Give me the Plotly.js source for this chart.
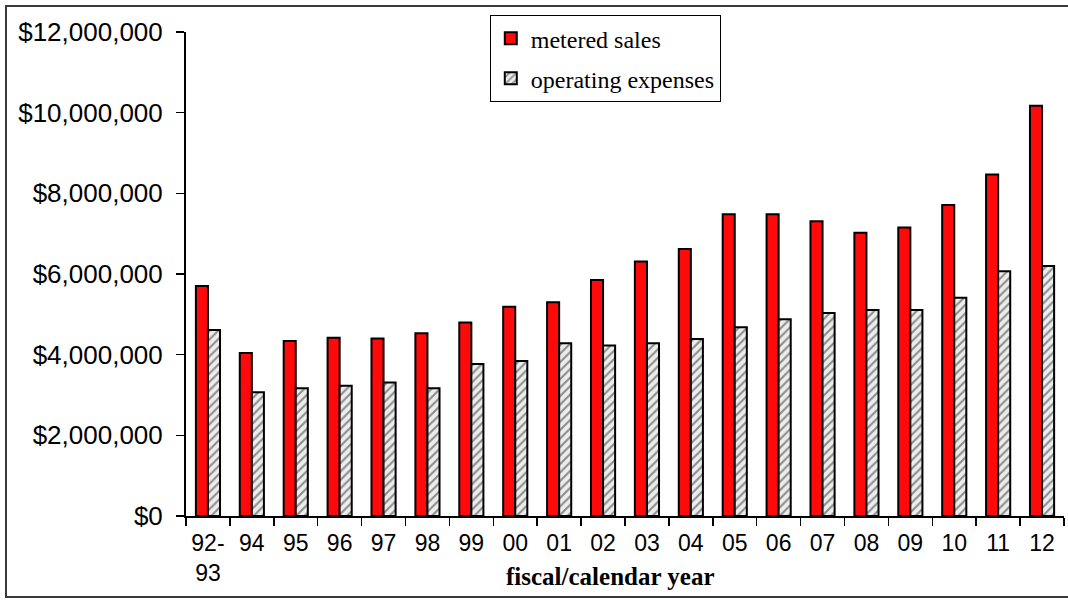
<!DOCTYPE html>
<html>
<head>
<meta charset="utf-8">
<script src="https://cdn.plot.ly/plotly-3.0.1.min.js"></script>
<style>
  html, body { margin: 0; padding: 0; background: #ffffff; }
  #frame { position: absolute; left: 5px; top: 5px; width: 1080px; height: 593px;
           border: 2px solid #3a3a3a; box-sizing: border-box; }
  #chart { position: absolute; left: 0; top: 0; width: 1068px; height: 601px; }
</style>
</head>
<body>
<div id="frame"></div>
<div id="chart"></div>
<script>
const categories = ["92-<br>93", "94", "95", "96", "97", "98", "99", "00", "01", "02",
                    "03", "04", "05", "06", "07", "08", "09", "10", "11", "12"];
const meteredSales = [5700000, 4040000, 4340000, 4420000, 4400000, 4530000, 4800000, 5190000, 5300000, 5850000,
                      6310000, 6620000, 7480000, 7480000, 7310000, 7020000, 7150000, 7710000, 8470000, 10170000];
const operatingExpenses = [4610000, 3070000, 3170000, 3230000, 3310000, 3170000, 3770000, 3840000, 4280000, 4230000,
                           4280000, 4390000, 4680000, 4880000, 5030000, 5110000, 5110000, 5410000, 6070000, 6200000];
const yTickValues = [0, 2000000, 4000000, 6000000, 8000000, 10000000, 12000000];
const yTickLabels = ["$0", "$2,000,000", "$4,000,000", "$6,000,000", "$8,000,000", "$10,000,000", "$12,000,000"];
const xTitle = "fiscal/calendar year";

const traces = [
  {
    type: "bar", name: "metered sales", x: categories, y: meteredSales,
    legendgroup: "a",
    marker: { color: "#ff0a0a", line: { color: "#000000", width: 2 } }
  },
  {
    type: "bar", name: "operating expenses", x: categories, y: operatingExpenses,
    legendgroup: "b",
    marker: {
      color: "#ffffff",
      line: { color: "#000000", width: 2 },
      pattern: { shape: "/", fgcolor: "#8c8c8c", bgcolor: "#ededed", size: 6, solidity: 0.35 }
    }
  }
];

const layout = {
  width: 1068, height: 601,
  margin: { l: 186, r: 4, t: 32, b: 85 },
  paper_bgcolor: "rgba(0,0,0,0)",
  plot_bgcolor: "rgba(0,0,0,0)",
  barmode: "group",
  bargap: 0.45,
  bargroupgap: 0,
  showlegend: true,
  font: { family: "Liberation Sans, Arial, sans-serif", size: 20, color: "#000000" },
  xaxis: {
    type: "category",
    showline: true, linecolor: "#000000", linewidth: 2,
    ticks: "outside", tickson: "boundaries", ticklen: 8, tickwidth: 1.5, tickcolor: "#000000",
    tickangle: 0,
    ticklabelstandoff: 5,
    showgrid: false, zeroline: false,
    tickfont: { family: "Liberation Sans, Arial, sans-serif", size: 23, color: "#000000" }
  },
  yaxis: {
    range: [0, 12000000],
    tickmode: "array",
    tickvals: yTickValues,
    ticktext: yTickLabels,
    showline: true, linecolor: "#000000", linewidth: 2,
    ticks: "outside", ticklen: 8, tickwidth: 1.5, tickcolor: "#000000",
    ticklabelstandoff: 8,
    showgrid: false, zeroline: false,
    tickfont: { family: "Liberation Sans, Arial, sans-serif", size: 26, color: "#000000" }
  },
  annotations: [{
    text: "<b>" + xTitle + "</b>",
    xref: "paper", yref: "paper", x: 0.484, y: -0.126,
    xanchor: "center", yanchor: "middle", showarrow: false,
    font: { family: "Liberation Serif, Times New Roman, serif", size: 25, color: "#000000" }
  }],
  legend: {
    x: 0.346, y: 1.035, xanchor: "left", yanchor: "top",
    bgcolor: "#ffffff", bordercolor: "#000000", borderwidth: 1,
    tracegroupgap: 6,
    itemwidth: 30,
    font: { family: "Liberation Serif, Times New Roman, serif", size: 24, color: "#000000" }
  }
};

Plotly.newPlot("chart", traces, layout, { displayModeBar: false, staticPlot: true });
</script>
</body>
</html>
